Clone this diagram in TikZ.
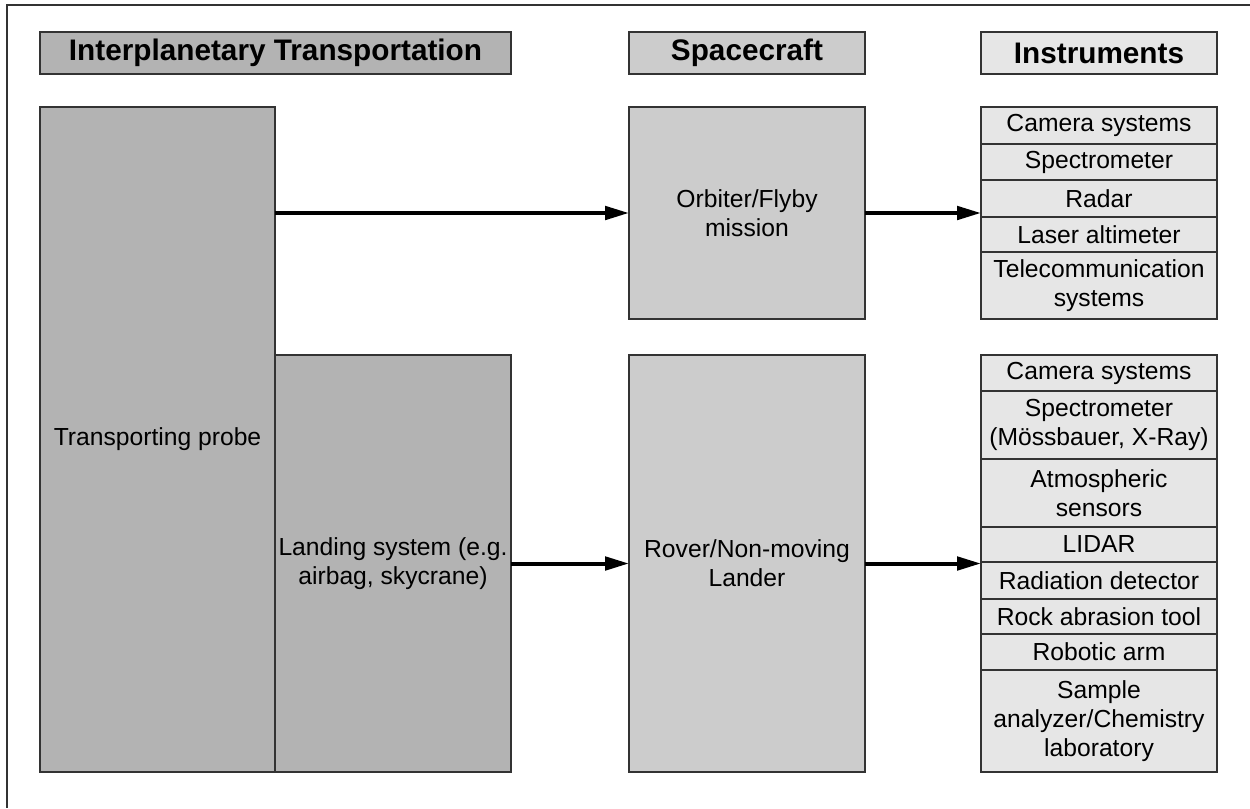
\documentclass[tikz,border=0pt]{standalone}
\usepackage{fontspec}
\setmainfont{Liberation Sans}
\usetikzlibrary{arrows.meta}
\definecolor{gA}{HTML}{B3B3B3}
\definecolor{gB}{HTML}{CCCCCC}
\definecolor{gC}{HTML}{E6E6E6}
\definecolor{edgec}{HTML}{333333}
\begin{document}
\begin{tikzpicture}[x=0.75pt,y=-0.75pt,
  box/.style={draw=edgec, line width=1.3pt, inner sep=0pt, outer sep=0pt, align=center,
    font=\fontsize{18.5}{21.5}\selectfont},
  cell/.style 2 args={box, minimum width={#1*0.75pt}, minimum height={#2*0.75pt}},
  hdrfont/.style={font=\fontsize{22.3}{26}\selectfont\bfseries},
  conn/.style={line width=3pt, -{Triangle[length=18pt,width=10pt]}}]
\useasboundingbox (0,0) rectangle (1250,808);
\draw[edgec, line width=1pt] (1250,5) -- (7,5) -- (7,808);
% headers
\node[cell={471}{42}, hdrfont, fill=gA] (h1) at (275.5,53) {Interplanetary Transportation};
\node[cell={236}{42}, hdrfont, fill=gB] (h2) at (747,53) {Spacecraft};
\node[cell={236}{42}, hdrfont, fill=gC] (h3) at (1099,53) {Instruments};
% transportation
\node[cell={235}{665}, fill=gA] (probe) at (157.5,439.5) {Transporting probe};
\node[cell={236}{417}, fill=gA] (landing) at (393,563.5) {Landing system (e.g.\\airbag, skycrane)};
% spacecraft
\node[cell={236}{212}, fill=gB] (orbiter) at (747,213) {Orbiter/Flyby\\mission};
\node[cell={236}{417}, fill=gB] (rover) at (747,563.5) {Rover/Non-moving\\Lander};
% instruments top
\node[cell={236}{37}, fill=gC] (t1) at (1099,125.5) {Camera systems};
\node[cell={236}{36}, fill=gC] (t2) at (1099,162) {Spectrometer};
\node[cell={236}{37}, fill=gC] (t3) at (1099,198.5) {Radar};
\node[cell={236}{35}, fill=gC] (t4) at (1099,234.5) {Laser altimeter};
\node[cell={236}{67}, fill=gC] (t5) at (1099,285.5) {Telecommunication\\systems};
% instruments bottom
\node[cell={236}{36}, fill=gC] (b1) at (1099,373) {Camera systems};
\node[cell={236}{68}, fill=gC] (b2) at (1099,425) {Spectrometer\\(Mössbauer, X-Ray)};
\node[cell={236}{68}, fill=gC] (b3) at (1099,493) {Atmospheric\\sensors};
\node[cell={236}{35}, fill=gC] (b4) at (1099,544.5) {LIDAR};
\node[cell={236}{37}, fill=gC] (b5) at (1099,580.5) {Radiation detector};
\node[cell={236}{35}, fill=gC] (b6) at (1099,616.5) {Rock abrasion tool};
\node[cell={236}{36}, fill=gC] (b7) at (1099,652) {Robotic arm};
\node[cell={236}{102}, fill=gC] (b8) at (1099,721) {Sample\\analyzer/Chemistry\\laboratory};
% connectors
\draw[conn] (orbiter.west -| probe.east) -- (orbiter.west);
\draw[conn] (orbiter.east) -- (orbiter.east -| t3.south west);
\draw[conn] (landing.east) -- (rover.west);
\draw[conn] (rover.east) -- (rover.east -| b5.west);
\end{tikzpicture}
\end{document}
